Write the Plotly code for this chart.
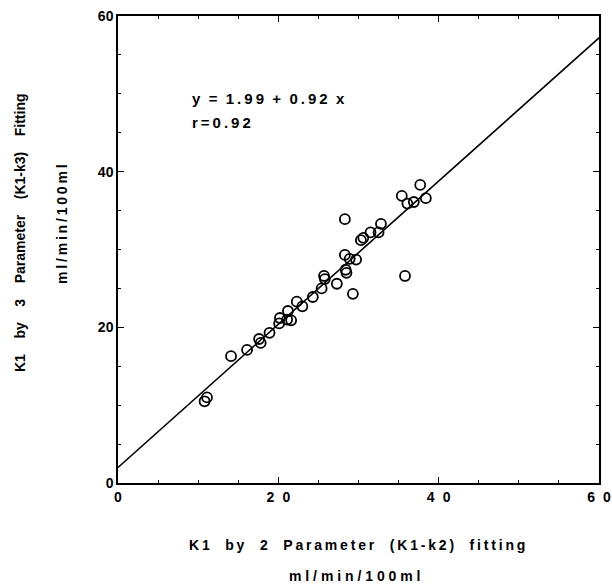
import plotly.graph_objects as go

# Data
k1_two_param = [10.8, 11.1, 14.1, 16.1, 17.6, 17.8, 18.9, 20.1, 20.2, 21.1, 21.6, 21.2,
                22.3, 23.0, 24.3, 25.4, 25.7, 25.8, 27.3, 28.3, 28.3, 28.9, 29.7,
                28.4, 28.5, 29.3, 30.3, 30.6, 31.5, 32.5, 32.8, 35.4, 36.1, 36.9,
                37.7, 38.4, 35.8]
k1_three_param = [10.5, 11.0, 16.3, 17.1, 18.5, 18.0, 19.3, 20.5, 21.2, 21.0, 20.9, 22.1,
                  23.3, 22.7, 23.9, 25.0, 26.6, 26.2, 25.6, 33.9, 29.3, 28.8, 28.7,
                  27.4, 27.0, 24.3, 31.2, 31.5, 32.2, 32.2, 33.3, 36.9, 35.9, 36.1,
                  38.3, 36.6, 26.6]
fit_intercept = 1.99
fit_slope = 0.92
fit_r = 0.92
fit_x = [0, 60]
fit_y = [fit_intercept + fit_slope * v for v in fit_x]

tick_vals = [0, 20, 40, 60]
x_tick_text = ["0", "2\u2002\u200a0", "4\u2002\u200a0", "6\u2002\u200a0"]
y_tick_text = ["0", "20", "40", "60"]

FONT = "Liberation Sans, Arial, sans-serif"
NB = "\u00a0"
TH = "\u2009"


def spaced(word):
    return TH.join(list(word))


fig = go.Figure()
fig.add_trace(go.Scatter(x=fit_x, y=fit_y, mode="lines", xaxis="x2", yaxis="y2",
                         line=dict(color="black", width=1.6), showlegend=False,
                         hoverinfo="skip"))
fig.add_trace(go.Scatter(x=k1_two_param, y=k1_three_param, mode="markers",
                         marker=dict(symbol="circle-open", size=10, color="black",
                                     line=dict(width=1.8, color="black")),
                         showlegend=False))

axis_common = dict(
    range=[0, 60], tickvals=tick_vals, ticks="inside", ticklen=6, tickwidth=1.2,
    tickcolor="black", showline=True, linecolor="black", linewidth=1.5,
    showgrid=False, zeroline=False, automargin=False,
    minor=dict(dtick=5, ticks="inside", ticklen=3, tickwidth=1, tickcolor="black",
               showgrid=False),
    tickfont=dict(family=FONT, size=14, color="black"),
)

x_title = (NB * 4).join(spaced(w) for w in ["K1", "by", "2", "Parameter", "(K1-k2)", "fitting"])
y_title = (NB * 4).join(["K1", "by", "3", "Parameter", "(K1-k3)", "Fitting"])
units_x = NB.join(list("ml/min/100ml"))
units_y = TH.join(list("ml/min/100ml"))

eq_text = (NB * 2).join(spaced(t) for t in
                        ["y", "=", "%.2f" % fit_intercept, "+", "%.2f" % fit_slope, "x"])
r_text = spaced("r=%.2f" % fit_r)

annotations = [
    dict(text="<b>%s</b>" % eq_text,
         x=9.0, y=49.4, xref="x", yref="y", xanchor="left", yanchor="middle",
         showarrow=False, font=dict(family=FONT, size=15, color="black")),
    dict(text="<b>%s</b>" % r_text,
         x=9.0, y=46.3, xref="x", yref="y", xanchor="left", yanchor="middle",
         showarrow=False, font=dict(family=FONT, size=15, color="black")),
    dict(text="<b>%s</b>" % x_title, x=357, y=545,
         showarrow=False, font=dict(family=FONT, size=14, color="black")),
    dict(text="<b>%s</b>" % units_x, x=355, y=576,
         showarrow=False, font=dict(family=FONT, size=14, color="black")),
    dict(text="<b>%s</b>" % y_title, x=20, y=233, textangle=-90,
         showarrow=False, font=dict(family=FONT, size=14, color="black")),
    dict(text="<b>%s</b>" % units_y, x=62, y=224, textangle=-90,
         showarrow=False, font=dict(family=FONT, size=14, color="black")),
]

# convert pixel-positioned annotations (titles) to paper coords
L, R, T, B = 118, 13, 16, 102
W, H = 612, 585
pw, ph = W - L - R, H - T - B
for a in annotations[2:]:
    px, py = a["x"], a["y"]
    a["x"] = (px - L) / pw
    a["y"] = (H - B - py) / ph
    a["xref"] = "paper"
    a["yref"] = "paper"
    a["xanchor"] = "center"
    a["yanchor"] = "middle"

fig.update_layout(
    width=W, height=H,
    margin=dict(l=L, r=R, t=T, b=B, pad=0, autoexpand=False),
    plot_bgcolor="white", paper_bgcolor="white",
    annotations=annotations,
    font=dict(family=FONT, color="black"),
    xaxis=dict(**axis_common, side="bottom",
               ticktext=["<b>%s</b>" % t for t in x_tick_text]),
    yaxis=dict(**axis_common, side="left",
               ticktext=["<b>%s</b>" % t for t in y_tick_text]),
    xaxis2=dict(**axis_common, side="top", overlaying="x", anchor="y2",
                showticklabels=False),
    yaxis2=dict(**axis_common, side="right", overlaying="y", anchor="x2",
                showticklabels=False),
)

fig.write_html("out.html", config={"displayModeBar": False},
               post_script="document.body.style.margin='0';document.body.style.overflow='hidden';")
